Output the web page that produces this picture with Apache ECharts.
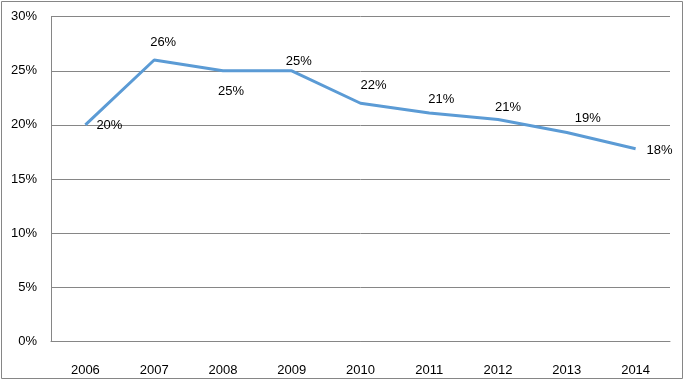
<!DOCTYPE html>
<html>
<head>
<meta charset="utf-8">
<script src="https://cdn.jsdelivr.net/npm/echarts@6/dist/echarts.min.js"></script>
<style>html,body{margin:0;padding:0;background:#fff}#c{width:685px;height:381px}</style>
</head>
<body>
<div id="c"></div>
<script>
const categories = ['2006','2007','2008','2009','2010','2011','2012','2013','2014'];
const values = [20.0, 26.0, 25.0, 25.0, 22.0, 21.1, 20.5, 19.3, 17.8];
const labels = ['20%','26%','25%','25%','22%','21%','21%','19%','18%'];
const labelOffsets = [[24,1],[9,-18],[8,21],[7,-9],[13,-18],[12,-14],[10,-12],[21,-14],[24,2]];
const yTicks = [0,5,10,15,20,25,30];

const chart = echarts.init(document.getElementById('c'), null, {renderer:'canvas'});
const font = 'Liberation Sans, Arial, sans-serif';
chart.setOption({
  animation:false,
  backgroundColor:'#fff',
  graphic:[{type:'rect',shape:{x:1.5,y:1.5,width:681,height:377},style:{fill:'none',stroke:'#868686',lineWidth:1},silent:true}],
  grid:{left:51,right:15,top:16.7,bottom:39.7},
  xAxis:{type:'category',data:categories,boundaryGap:true,
    axisLine:{lineStyle:{color:'#868686'}},axisTick:{show:false},
    axisLabel:{color:'#000',fontSize:13,fontFamily:font,margin:23}},
  yAxis:{type:'value',min:yTicks[0],max:yTicks[yTicks.length-1],interval:5,
    axisLine:{show:true,lineStyle:{color:'#868686'}},axisTick:{show:false},
    splitLine:{lineStyle:{color:'#868686'}},
    axisLabel:{color:'#000',fontSize:13,fontFamily:font,margin:14,formatter:v=>v+'%'}},
  series:[{type:'line',data:values.map((v,i)=>({value:v,label:{offset:labelOffsets[i]}})),
    symbol:'circle',symbolSize:0.5,showSymbol:true,
    itemStyle:{color:'rgba(0,0,0,0)',borderWidth:0},
    lineStyle:{color:'#5B9BD5',width:3},
    label:{show:true,position:'inside',color:'#000',fontSize:13,fontFamily:font,
      formatter:p=>labels[p.dataIndex]}}]
});
</script>
</body>
</html>
